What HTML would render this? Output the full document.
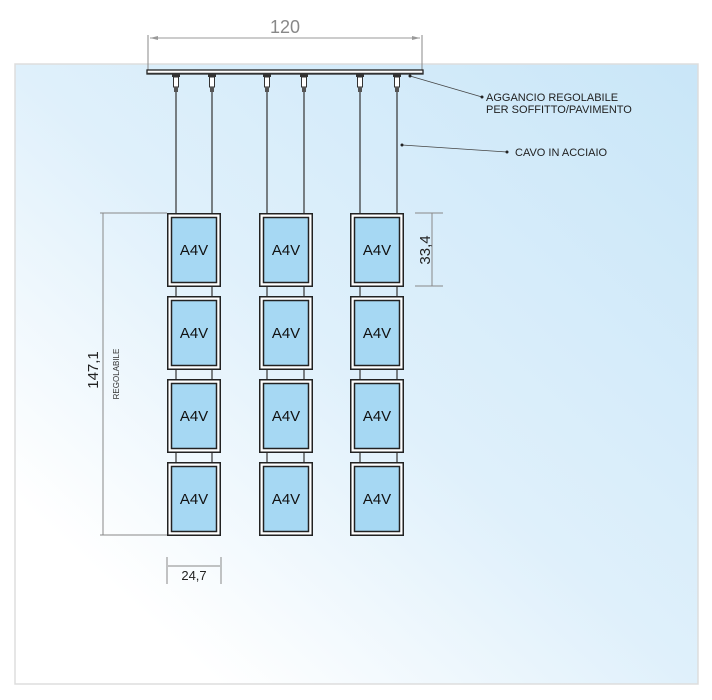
<!DOCTYPE html>
<html><head><style>
html,body{margin:0;padding:0;background:#fff;}
svg{display:block;font-family:"Liberation Sans",Arial,sans-serif;}
</style></head><body>
<svg width="712" height="700" viewBox="0 0 712 700" xmlns="http://www.w3.org/2000/svg">
<defs>
<linearGradient id="bg" x1="1" y1="0" x2="0" y2="1">
<stop offset="0" stop-color="#c9e6f8"/>
<stop offset="0.5" stop-color="#dff0fb"/>
<stop offset="0.85" stop-color="#ffffff"/>
<stop offset="1" stop-color="#ffffff"/>
</linearGradient>
<g id="hook">
<rect x="-4" y="0" width="8" height="3" fill="#333"/>
<rect x="-2.5" y="3" width="5" height="10" fill="#fff" stroke="#333" stroke-width="1"/>
<rect x="-2" y="13" width="4" height="5" fill="#555"/>
</g>
<g id="frame">
<rect x="0.75" y="0.75" width="52.5" height="72.5" fill="#fff" stroke="#222" stroke-width="1.5"/>
<rect x="4.5" y="4.5" width="45" height="65" fill="#a6d8f3" stroke="#222" stroke-width="1.5"/>
<text x="27" y="42" font-size="15" text-anchor="middle" fill="#111">A4V</text>
</g>
</defs>
<rect x="15" y="64" width="683" height="620" fill="url(#bg)" stroke="#ddd" stroke-width="1.5"/>
<line x1="148" y1="35" x2="148" y2="72" stroke="#888" stroke-width="1"/>
<line x1="422" y1="35" x2="422" y2="72" stroke="#888" stroke-width="1"/>
<line x1="150" y1="38" x2="420" y2="38" stroke="#999" stroke-width="1"/>
<path d="M150 38 l8 -2 v4 z M420 38 l-8 -2 v4 z" fill="#999"/>
<text x="285" y="33" font-size="18" text-anchor="middle" fill="#888">120</text>
<rect x="147" y="70" width="276" height="4" fill="#fff" stroke="#222" stroke-width="1.3"/>
<line x1="147" y1="73.5" x2="423" y2="73.5" stroke="#333" stroke-width="1.5"/>
<g stroke="#333" stroke-width="1.2">
<line x1="176" y1="90" x2="176" y2="462"/><line x1="212" y1="90" x2="212" y2="462"/>
<line x1="267" y1="90" x2="267" y2="462"/><line x1="304" y1="90" x2="304" y2="462"/>
<line x1="360" y1="90" x2="360" y2="462"/><line x1="397" y1="90" x2="397" y2="462"/>
</g>
<use href="#hook" x="176" y="74"/><use href="#hook" x="212" y="74"/>
<use href="#hook" x="267" y="74"/><use href="#hook" x="304" y="74"/>
<use href="#hook" x="360" y="74"/><use href="#hook" x="397" y="74"/>
<use href="#frame" x="167" y="213"/><use href="#frame" x="167" y="296"/><use href="#frame" x="167" y="379"/><use href="#frame" x="167" y="462"/>
<use href="#frame" x="259" y="213"/><use href="#frame" x="259" y="296"/><use href="#frame" x="259" y="379"/><use href="#frame" x="259" y="462"/>
<use href="#frame" x="350" y="213"/><use href="#frame" x="350" y="296"/><use href="#frame" x="350" y="379"/><use href="#frame" x="350" y="462"/>
<line x1="410" y1="76" x2="482" y2="97" stroke="#444" stroke-width="0.8"/>
<circle cx="410" cy="76" r="1.5" fill="#222"/><circle cx="482" cy="97" r="1.5" fill="#222"/>
<text x="486" y="101" font-size="11" fill="#222">AGGANCIO REGOLABILE</text>
<text x="486" y="113" font-size="11" fill="#222">PER SOFFITTO/PAVIMENTO</text>
<line x1="402" y1="145" x2="507" y2="152" stroke="#444" stroke-width="0.8"/>
<circle cx="402" cy="145" r="1.5" fill="#222"/><circle cx="507" cy="152" r="1.5" fill="#222"/>
<text x="515" y="156" font-size="11" fill="#222">CAVO IN ACCIAIO</text>
<g stroke="#888" stroke-width="1">
<line x1="415" y1="213" x2="443" y2="213"/><line x1="415" y1="286" x2="443" y2="286"/>
<line x1="432" y1="213" x2="432" y2="286"/>
<line x1="100" y1="213" x2="167" y2="213"/><line x1="100" y1="535" x2="167" y2="535"/>
<line x1="103" y1="213" x2="103" y2="535"/>
<line x1="167" y1="557" x2="167" y2="584"/><line x1="221" y1="557" x2="221" y2="584"/>
<line x1="168" y1="566" x2="220" y2="566"/>
</g>
<text transform="translate(430,250) rotate(-90)" font-size="15" text-anchor="middle" fill="#222">33,4</text>
<text transform="translate(98,370) rotate(-90)" font-size="15" text-anchor="middle" fill="#222">147,1</text>
<text transform="translate(119,374) rotate(-90)" font-size="8" text-anchor="middle" fill="#333">REGOLABILE</text>
<text x="194" y="580" font-size="13" text-anchor="middle" fill="#222">24,7</text>
</svg>
</body></html>
